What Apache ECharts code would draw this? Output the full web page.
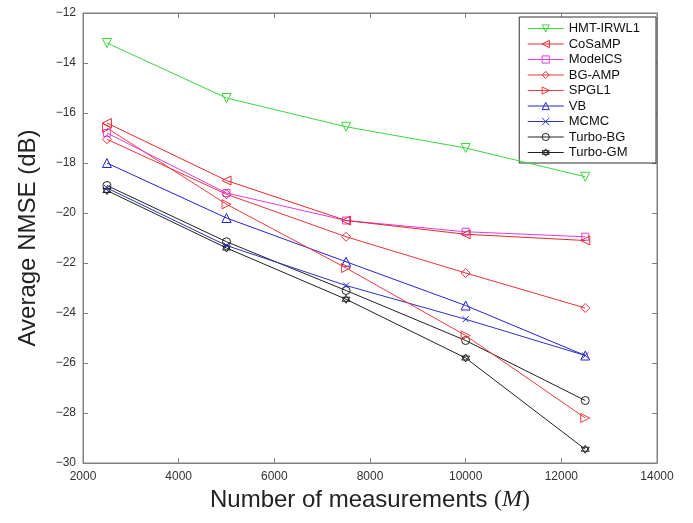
<!DOCTYPE html>
<html><head><meta charset="utf-8">
<script src="https://cdn.jsdelivr.net/npm/echarts@6/dist/echarts.min.js"></script>
<style>html,body{margin:0;padding:0;background:#fff}#c{width:693px;height:523px}</style>
</head><body><div id="c"></div>
<script>
const xValues = [2500, 5000, 7500, 10000, 12500];
const xTicks = [2000, 4000, 6000, 8000, 10000, 12000, 14000];
const yTicks = [-30, -28, -26, -24, -22, -20, -18, -16, -14, -12];
const seriesNames = ['HMT-IRWL1','CoSaMP','ModelCS','BG-AMP','SPGL1','VB','MCMC','Turbo-BG','Turbo-GM'];
const hmt      = [-13.2, -15.4, -16.55, -17.4, -18.55];
const cosamp   = [-16.4, -18.7, -20.3, -20.85, -21.1];
const modelcs  = [-16.8, -19.2, -20.3, -20.75, -20.95];
const bgamp    = [-17.05, -19.25, -20.95, -22.4, -23.8];
const spgl1    = [-16.6, -19.65, -22.2, -24.9, -28.2];
const vb       = [-18.0, -20.2, -21.95, -23.7, -25.7];
const mcmc     = [-19.0, -21.3, -22.9, -24.25, -25.7];
const turbobg  = [-18.9, -21.15, -23.1, -25.1, -27.5];
const turbogm  = [-19.1, -21.4, -23.45, -25.8, -29.45];
const allData = [hmt, cosamp, modelcs, bgamp, spgl1, vb, mcmc, turbobg, turbogm];
const colors = ['#3cd83c','#e8282e','#e03ce0','#e8343a','#f03c3c','#2424d8','#2a34c0','#222222','#222222'];
const symbols = ['triangle','triangle','rect','diamond','triangle','triangle',
  'path://M0,0L10,10M10,0L0,10',
  'circle',
  'path://M0,-10L8.66,5L-8.66,5ZM0,10L8.66,-5L-8.66,-5Z'];
const rotates = [180, 90, 0, 0, -90, 0, 0, 0, 0];
const sizes = [9, 9, 7, 9, 9, 9, 6, 8, 8];

const chart = echarts.init(document.getElementById('c'), null, {renderer:'canvas'});
const axisCol = '#808080';
const minus = v => String(v).replace('-', '\u2212');
const series = seriesNames.map((n, i) => ({
  name: n, type: 'line',
  data: xValues.map((x, j) => [x, allData[i][j]]),
  symbol: symbols[i], symbolRotate: rotates[i], symbolSize: sizes[i],
  showSymbol: true,
  lineStyle: {color: colors[i], width: 1},
  itemStyle: {color: 'rgba(255,255,255,0)', borderColor: colors[i], borderWidth: 1},
  emphasis: {disabled: true},
  z: 10 - i
}));
const font = 'Liberation Sans, Arial, sans-serif';
chart.setOption({
  animation: false,
  backgroundColor: '#fff',
  grid: {left: 83, right: 36, top: 13, bottom: 60, show: true, borderColor: axisCol, borderWidth: 1},
  legend: {
    orient: 'vertical', right: 37, top: 17,
    backgroundColor: '#fff', borderColor: '#333', borderWidth: 1,
    padding: [5, 16, 4, 8], itemGap: 2.5, itemWidth: 36, itemHeight: 9,
    textStyle: {fontFamily: font, fontSize: 13, color: '#111'},
    data: seriesNames.map((n, i) => ({
      name: n,
      itemStyle: {color: 'rgba(255,255,255,0)', borderColor: colors[i], borderWidth: 1},
      lineStyle: {color: colors[i], width: 1}
    }))
  },
  xAxis: [{
    type: 'value', min: 2000, max: 14000, interval: 2000,
    axisLine: {show: true, lineStyle: {color: axisCol}},
    axisTick: {show: true, inside: true, length: 5, lineStyle: {color: axisCol}},
    splitLine: {show: false},
    axisLabel: {fontFamily: font, fontSize: 12, color: '#333', margin: 8, formatter: v => String(v)},
    name: 'Number of measurements {p|(}{m|M}{p|)}',
    nameLocation: 'middle', nameGap: 23,
    nameTextStyle: {fontFamily: font, fontSize: 24, color: '#222',
      rich: {p: {fontFamily: 'Liberation Serif, serif', fontSize: 24, color: '#222'},
             m: {fontFamily: 'Liberation Serif, serif', fontStyle: 'italic', fontSize: 24, color: '#222'}}}
  }, {
    type: 'value', position: 'top', min: 2000, max: 14000, interval: 2000,
    axisLine: {show: true, lineStyle: {color: axisCol}},
    axisTick: {show: true, inside: true, length: 5, lineStyle: {color: axisCol}},
    axisLabel: {show: false}, splitLine: {show: false}
  }],
  yAxis: [{
    type: 'value', min: -30, max: -12, interval: 2,
    axisLine: {show: true, lineStyle: {color: axisCol}},
    axisTick: {show: true, inside: true, length: 5, lineStyle: {color: axisCol}},
    splitLine: {show: false},
    axisLabel: {fontFamily: font, fontSize: 12, color: '#333', margin: 7, formatter: minus},
    name: 'Average NMSE (dB)', nameLocation: 'middle', nameGap: 43, nameRotate: 90,
    nameTextStyle: {fontFamily: font, fontSize: 24, color: '#222'}
  }, {
    type: 'value', position: 'right', min: -30, max: -12, interval: 2,
    axisLine: {show: true, lineStyle: {color: axisCol}},
    axisTick: {show: true, inside: true, length: 5, lineStyle: {color: axisCol}},
    axisLabel: {show: false}, splitLine: {show: false}
  }],
  series: series
});
</script></body></html>
